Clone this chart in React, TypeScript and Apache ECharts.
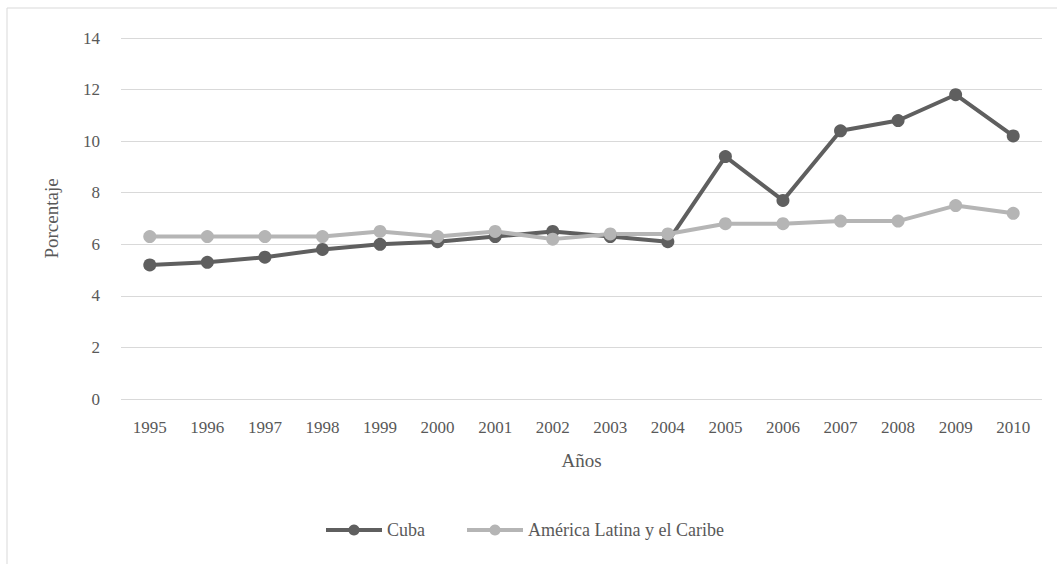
import React, { useEffect, useRef } from "react";
import * as echarts from "echarts";

const years = ["1995", "1996", "1997", "1998", "1999", "2000", "2001", "2002", "2003", "2004", "2005", "2006", "2007", "2008", "2009", "2010"];
const cuba = [5.2, 5.3, 5.5, 5.8, 6.0, 6.1, 6.3, 6.5, 6.3, 6.1, 9.4, 7.7, 10.4, 10.8, 11.8, 10.2];
const latam = [6.3, 6.3, 6.3, 6.3, 6.5, 6.3, 6.5, 6.2, 6.4, 6.4, 6.8, 6.8, 6.9, 6.9, 7.5, 7.2];
const seriesNames = ["Cuba", "América Latina y el Caribe"];

const FONT = "Liberation Serif";
const TXT = "#595959";

export default function App() {
  const ref = useRef<HTMLDivElement>(null);
  useEffect(() => {
    if (!ref.current) return;
    const chart = echarts.init(ref.current, undefined, { renderer: "svg" });
    chart.setOption({
      animation: false,
      textStyle: { fontFamily: FONT },
      graphic: [
        {
          type: "rect",
          shape: { x: 7, y: 8, width: 1080, height: 600 },
          style: { fill: "none", stroke: "#d9d9d9", lineWidth: 1 },
          silent: true,
        },
      ],
      grid: { left: 121, right: 15, top: 38, bottom: 165 },
      legend: {
        bottom: 20,
        left: 319,
        itemWidth: 56,
        itemHeight: 14,
        itemGap: 40,
        lineStyle: { width: 4 },
        textStyle: { fontFamily: FONT, color: TXT, fontSize: 18 },
        data: seriesNames,
      },
      xAxis: {
        type: "category",
        data: years,
        name: "Años",
        nameLocation: "middle",
        nameGap: 52,
        nameTextStyle: { fontFamily: FONT, color: TXT, fontSize: 19 },
        axisLine: { show: false },
        axisTick: { show: false },
        axisLabel: { fontFamily: FONT, color: TXT, fontSize: 17, margin: 20, interval: 0 },
      },
      yAxis: {
        type: "value",
        min: 0,
        max: 14,
        interval: 2,
        name: "Porcentaje",
        nameLocation: "middle",
        nameGap: 60,
        nameTextStyle: { fontFamily: FONT, color: TXT, fontSize: 19 },
        axisLine: { show: false },
        axisTick: { show: false },
        axisLabel: { fontFamily: FONT, color: TXT, fontSize: 17, margin: 21 },
        splitLine: { lineStyle: { color: "#d9d9d9", width: 1 } },
      },
      series: [
        {
          name: seriesNames[0],
          type: "line",
          data: cuba,
          symbol: "circle",
          symbolSize: 13,
          lineStyle: { color: "#5f5f5f", width: 4 },
          itemStyle: { color: "#5f5f5f" },
        },
        {
          name: seriesNames[1],
          type: "line",
          data: latam,
          symbol: "circle",
          symbolSize: 13,
          lineStyle: { color: "#b5b5b5", width: 4 },
          itemStyle: { color: "#b5b5b5" },
        },
      ],
    });
    return () => chart.dispose();
  }, []);
  return (
    <>
      <style>{`#root svg text { font-family: "Liberation Serif", "Times New Roman", serif !important; }`}</style>
      <div
        ref={ref}
        style={{ position: "fixed", left: 0, top: 0, width: 1057, height: 564, background: "#fff" }}
      />
    </>
  );
}
